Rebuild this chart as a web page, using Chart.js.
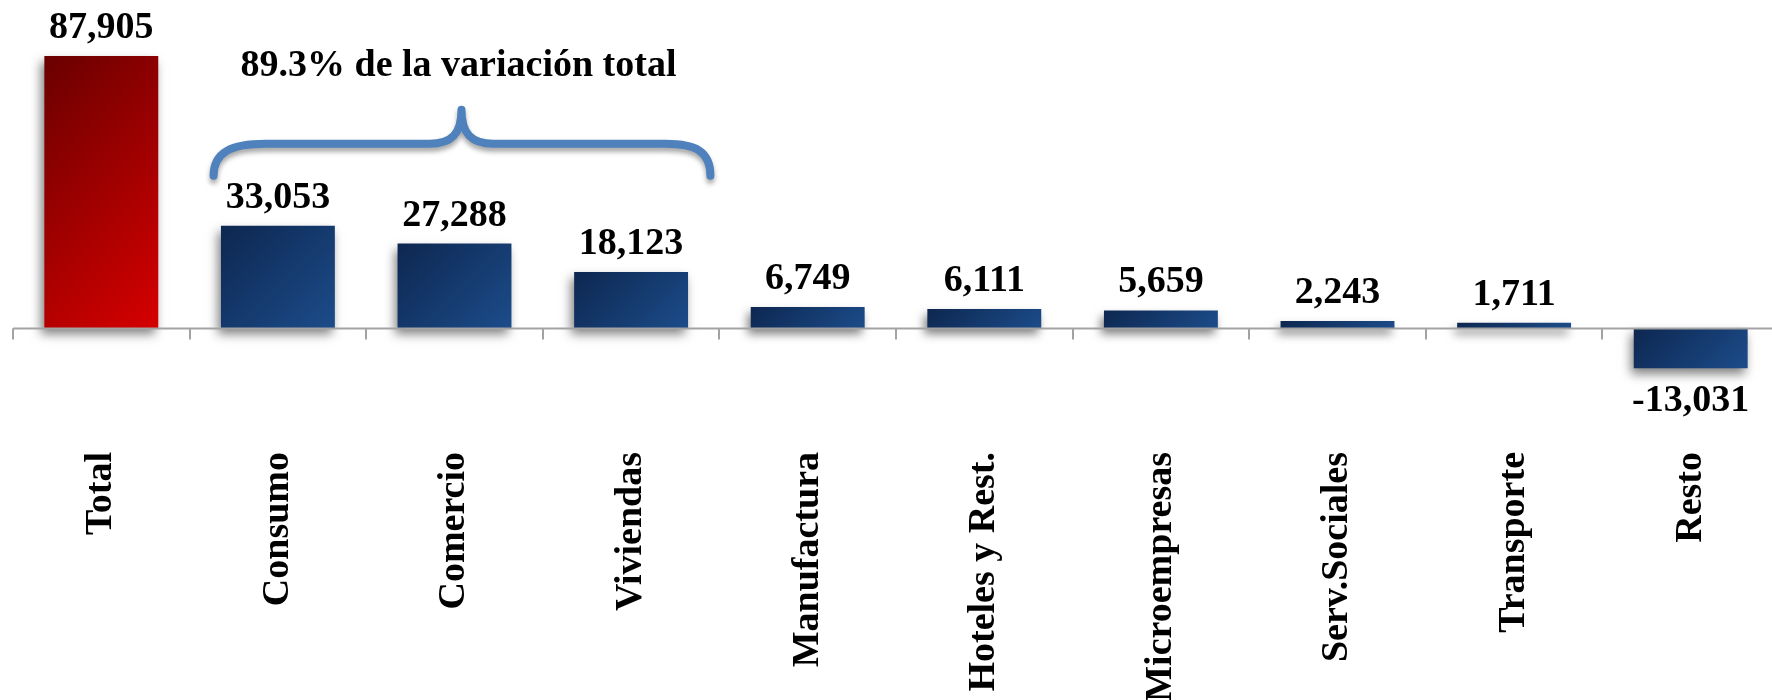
<!DOCTYPE html>
<html><head><meta charset="utf-8">
<script src="https://cdn.jsdelivr.net/npm/chart.js@4/dist/chart.umd.min.js"></script>
<style>
html,body{margin:0;padding:0;background:#fff;overflow:hidden;width:1772px;height:700px;}
#wrap{position:relative;width:1779px;height:700px;}
</style></head><body>
<div id="wrap"><canvas id="c"></canvas></div>
<script>
const categories = ['Total','Consumo','Comercio','Viviendas','Manufactura','Hoteles y Rest.','Microempresas','Serv.Sociales','Transporte','Resto'];
const values = [87905, 33053, 27288, 18123, 6749, 6111, 5659, 2243, 1711, -13031];
const highlightIndex = [0];
const braceFrom = 1, braceTo = 3;
const braceText = '89.3% de la variación total';
const yMin = -38800, yMax = 106000;

const FONT = '"Liberation Serif", "Times New Roman", serif';
const redStops = ['#6a0000', '#d60000'];
const blueStops = ['#0d2750', '#1c4c8a'];
const barPct = 0.645;

function barFill(c) {
  const chart = c.chart, i = c.dataIndex;
  const cols = highlightIndex.includes(i) ? redStops : blueStops;
  const ca = chart.chartArea;
  if (!ca || c.type !== 'data') return cols[1];
  const xs = chart.scales.x, ys = chart.scales.y;
  const cx = xs.getPixelForValue(i);
  const w = xs.width / categories.length * barPct;
  const l = cx - w / 2;
  const yv = ys.getPixelForValue(c.raw), yb = ys.getPixelForValue(0);
  const t = Math.min(yv, yb), h = Math.abs(yv - yb);
  const s = (w + h) / 2;
  const g = chart.ctx.createLinearGradient(l, t, l + s, t + s);
  g.addColorStop(0, cols[0]);
  g.addColorStop(1, cols[1]);
  return g;
}

const shadowPlugin = {
  id: 'barShadow',
  beforeDatasetsDraw(chart) {
    const ctx = chart.ctx;
    ctx.save();
    ctx.shadowColor = 'rgba(0,0,0,0.5)';
    ctx.shadowBlur = 10;
    ctx.shadowOffsetX = -3;
    ctx.shadowOffsetY = 6;
  },
  afterDatasetsDraw(chart) {
    chart.ctx.restore();
  }
};

const axisPlugin = {
  id: 'zeroAxis',
  afterDatasetsDraw(chart) {
    const ctx = chart.ctx, xs = chart.scales.x, ys = chart.scales.y;
    const y0 = Math.round(ys.getPixelForValue(0)) + 0.5;
    ctx.save();
    ctx.shadowColor = 'transparent';
    ctx.strokeStyle = '#a3a3a3';
    ctx.lineWidth = 2;
    ctx.beginPath();
    ctx.moveTo(xs.left, y0);
    ctx.lineTo(xs.right, y0);
    const n = categories.length, cw = xs.width / n;
    for (let i = 0; i < n; i++) {
      const bx = Math.round(xs.getPixelForValue(i) - cw / 2);
      ctx.moveTo(bx, y0);
      ctx.lineTo(bx, y0 + 11);
    }
    ctx.stroke();

    // value labels
    ctx.fillStyle = '#000';
    ctx.font = 'bold 38px ' + FONT;
    ctx.textAlign = 'center';
    ctx.textBaseline = 'alphabetic';
    const meta = chart.getDatasetMeta(0);
    meta.data.forEach((bar, i) => {
      const v = values[i];
      const txt = v.toLocaleString('en-US');
      if (v >= 0) ctx.fillText(txt, bar.x, bar.y - 18);
      else ctx.fillText(txt, bar.x, bar.y + 43);
    });
    ctx.restore();
  }
};

const bracePlugin = {
  id: 'brace',
  afterDraw(chart) {
    const ctx = chart.ctx, xs = chart.scales.x, ys = chart.scales.y;
    const cw = xs.width / categories.length;
    const L = xs.getPixelForValue(braceFrom) - cw / 2 + 24;
    const R = xs.getPixelForValue(braceTo) + cw / 2 - 9;
    const M = (xs.getPixelForValue(braceFrom) + xs.getPixelForValue(braceTo)) / 2 + 7;
    const yEnd = ys.getPixelForValue(49200);
    const yMid = ys.getPixelForValue(59500);
    const yTip = ys.getPixelForValue(70500);
    ctx.save();
    ctx.shadowColor = 'rgba(0,0,0,0.35)';
    ctx.shadowBlur = 5;
    ctx.shadowOffsetX = 0;
    ctx.shadowOffsetY = 4;
    ctx.strokeStyle = '#4f81bd';
    ctx.lineWidth = 8;
    ctx.lineCap = 'round';
    ctx.lineJoin = 'round';
    ctx.beginPath();
    ctx.moveTo(L, yEnd);
    ctx.bezierCurveTo(L, yMid + 8, L + 18, yMid, L + 52, yMid);
    ctx.lineTo(M - 32, yMid);
    ctx.bezierCurveTo(M - 10, yMid, M, yMid - 10, M, yTip);
    ctx.bezierCurveTo(M, yMid - 10, M + 10, yMid, M + 32, yMid);
    ctx.lineTo(R - 45, yMid);
    ctx.bezierCurveTo(R - 14, yMid, R, yMid + 8, R, yEnd);
    ctx.stroke();
    ctx.restore();

    ctx.save();
    ctx.fillStyle = '#000';
    ctx.font = 'bold 38px ' + FONT;
    ctx.textAlign = 'center';
    ctx.textBaseline = 'alphabetic';
    ctx.fillText(braceText, M - 3, ys.getPixelForValue(81300));
    ctx.restore();
  }
};

new Chart(document.getElementById('c'), {
  type: 'bar',
  data: {
    labels: categories,
    datasets: [{
      data: values,
      backgroundColor: barFill,
      borderWidth: 0,
      barPercentage: barPct,
      categoryPercentage: 1.0
    }]
  },
  options: {
    responsive: true,
    maintainAspectRatio: false,
    animation: false,
    events: [],
    layout: { padding: { left: 13, right: 0, top: 0, bottom: 0 } },
    plugins: { legend: { display: false }, tooltip: { enabled: false } },
    scales: {
      x: {
        grid: { display: false, drawTicks: false },
        border: { display: false },
        ticks: {
          autoSkip: false,
          minRotation: 90,
          maxRotation: 90,
          padding: 4,
          color: '#000',
          font: { family: FONT, size: 38, weight: 'bold' }
        },
        afterFit(scale) { scale.height = 252; }
      },
      y: {
        display: false,
        min: yMin,
        max: yMax
      }
    }
  },
  plugins: [shadowPlugin, axisPlugin, bracePlugin]
});
</script>
</body></html>
